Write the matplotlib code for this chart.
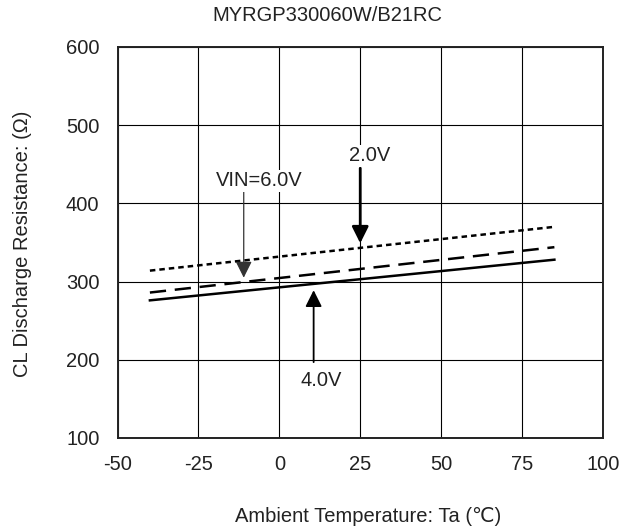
import matplotlib.pyplot as plt

plt.rcParams['font.family'] = ['Liberation Sans', 'DejaVu Sans']
plt.rcParams['axes.unicode_minus'] = False

# data
temp = [-40, 85]
r_2v = [314, 370]
r_6v = [286, 344]
r_4v = [276, 328]

xticks = [-50, -25, 0, 25, 50, 75, 100]
yticks = [100, 200, 300, 400, 500, 600]

fig = plt.figure(figsize=(6.36, 5.32), dpi=100)
ax = fig.add_axes([0.1848, 0.1767, 0.7632, 0.735])

ax.plot(temp, r_2v, color='black', lw=1.8, linestyle=(0, (2.2, 1.6)))
ax.plot(temp, r_6v, color='black', lw=1.8, linestyle=(0, (6.5, 3.5)))
ax.plot(temp, r_4v, color='black', lw=1.8, linestyle='-')

ax.set_xlim(-50, 100)
ax.set_ylim(100, 600)
ax.set_xticks(xticks)
ax.set_yticks(yticks)
ax.tick_params(axis='y', length=0, labelsize=14.5, pad=13, colors='#222222')
ax.tick_params(axis='x', length=0, labelsize=14.5, pad=12, colors='#222222')
ax.grid(True, color='black', lw=0.8)
for s in ax.spines.values():
    s.set_linewidth(1.4)
    s.set_color('#222222')

bbox = dict(facecolor='white', edgecolor='none', pad=1)
head = '-|>,head_length=1.0,head_width=0.5'

# arrows
ax.annotate('', xy=(-11, 305), xytext=(-11, 417),
            arrowprops=dict(arrowstyle=head, color='#333333', lw=0.9, shrinkA=0, shrinkB=0))
ax.annotate('', xy=(25, 349), xytext=(25, 445),
            arrowprops=dict(arrowstyle=head, color='black', lw=2, shrinkA=0, shrinkB=0))
ax.annotate('', xy=(10.6, 289), xytext=(10.6, 197),
            arrowprops=dict(arrowstyle=head, color='black', lw=1.3, shrinkA=0, shrinkB=0))

# labels
ax.text(-6.3, 429, 'VIN=6.0V', ha='center', va='center', fontsize=14.5, color='#222222', bbox=bbox)
ax.text(27.9, 461, '2.0V', ha='center', va='center', fontsize=14.5, color='#222222', bbox=bbox)
ax.text(12.8, 174, '4.0V', ha='center', va='center', fontsize=14.5, color='#222222', bbox=bbox)

fig.text(327 / 636, 1 - 15.5 / 532, 'MYRGP330060W/B21RC', ha='center', va='center',
         fontsize=14.5, color='#222222')
fig.text(368 / 636, 1 - 516 / 532, 'Ambient Temperature: Ta (\u2103)', ha='center', va='center',
         fontsize=14.5, color='#222222')
fig.text(23 / 636, 1 - 243.5 / 532, 'CL Discharge Resistance: (\u03a9)', ha='center', va='center',
         rotation=90, fontsize=14.5, color='#222222')

fig.savefig('out.png', dpi=100)
